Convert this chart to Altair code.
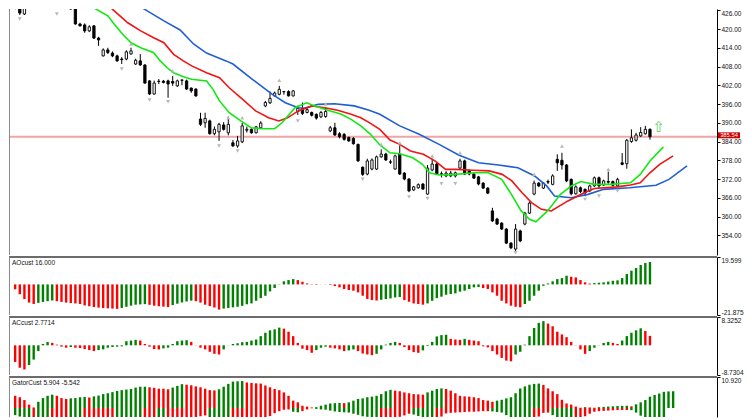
import altair as alt
import pandas as pd

# ---------------- candles (bar index 0..137) ----------------
opens = [428.0, 426.7, 424.8, 426.7, 428.2, 429.3, 429.5, 431.0, 428.9, 429.0,
         427.1, 428.0, 428.3, 426.4, 421.6, 421.3, 419.4, 421.0, 417.1, 411.4,
         413.3, 412.3, 411.4, 410.4, 410.4, 412.0, 408.8, 409.8, 408.5, 403.4,
         399.2, 403.3, 403.3, 403.4, 403.2, 401.8, 403.7, 403.4, 401.1, 400.8,
         391.2, 390.0, 390.6, 386.5, 387.1, 389.3, 386.8, 383.6, 382.6, 383.9,
         387.6, 387.9, 386.8, 388.4, 395.4, 396.4, 398.6, 399.1, 400.0, 400.0,
         398.6, 393.6, 394.6, 393.3, 393.3, 392.7, 391.9, 392.0, 387.4, 388.4,
         386.5, 386.3, 385.3, 385.0, 383.1, 375.8, 373.6, 375.2, 375.2, 379.1,
         380.0, 377.5, 375.2, 380.0, 373.9, 372.0, 368.5, 369.2, 370.4, 367.2,
         374.9, 376.8, 373.7, 373.0, 373.0, 373.0, 375.5, 377.8, 374.6, 373.6,
         372.7, 370.7, 369.1, 361.8, 359.2, 357.9, 356.0, 351.5, 349.6, 355.4,
         357.6, 361.1, 367.2, 370.7, 369.1, 371.2, 370.3, 378.3, 378.0, 376.5,
         371.9, 367.3, 369.2, 368.7, 368.2, 369.8, 372.4, 370.1, 371.2, 371.2,
         369.8, 377.2, 376.9, 384.0, 384.4, 385.8, 386.5, 387.9]
highs = [428.5, 427.0, 427.0, 428.7, 428.5, 429.8, 430.5, 432.0, 429.1, 429.5,
         428.5, 428.6, 429.0, 426.6, 422.0, 421.8, 421.2, 421.3, 417.5, 413.8,
         414.0, 412.8, 411.8, 411.0, 413.2, 414.0, 410.5, 412.0, 408.7, 403.6,
         403.5, 404.0, 403.7, 403.8, 405.0, 403.8, 403.8, 403.8, 401.3, 401.0,
         393.2, 393.2, 391.0, 388.8, 390.0, 390.2, 392.0, 384.5, 385.8, 390.0,
         388.8, 388.2, 389.0, 390.5, 397.0, 400.0, 400.0, 401.8, 400.2, 400.4,
         400.5, 395.5, 396.5, 395.0, 393.6, 393.0, 393.8, 395.0, 389.0, 390.0,
         387.0, 386.7, 385.6, 385.4, 383.3, 376.0, 378.5, 378.6, 379.5, 381.5,
         380.4, 378.2, 379.8, 382.8, 374.2, 372.3, 369.8, 370.6, 370.7, 376.5,
         378.5, 377.5, 374.4, 374.5, 374.6, 374.4, 378.5, 378.2, 375.0, 373.9,
         373.0, 371.0, 369.4, 362.8, 359.6, 358.2, 356.3, 351.8, 357.6, 355.8,
         361.5, 364.8, 371.5, 371.0, 371.0, 371.8, 373.5, 379.9, 380.4, 376.8,
         372.2, 370.0, 369.6, 369.0, 370.2, 372.8, 372.8, 371.8, 374.4, 371.5,
         372.4, 380.3, 384.8, 387.9, 386.8, 388.6, 389.0, 388.2]
lows = [426.3, 424.5, 424.5, 426.5, 427.5, 428.6, 428.8, 430.0, 427.4, 426.4,
        426.8, 427.4, 426.2, 421.4, 420.8, 418.8, 419.0, 416.8, 414.6, 411.2,
        412.0, 411.0, 409.5, 408.8, 410.0, 411.8, 408.5, 408.2, 402.5, 398.9,
        399.0, 402.4, 402.6, 398.0, 401.8, 401.5, 402.0, 400.5, 399.6, 398.3,
        389.0, 388.4, 386.2, 386.0, 384.2, 387.5, 386.0, 382.3, 382.0, 383.5,
        386.9, 386.5, 386.6, 388.0, 395.0, 396.0, 398.4, 398.8, 399.0, 398.4,
        398.4, 392.5, 392.5, 393.0, 392.0, 391.0, 391.5, 391.6, 387.0, 385.8,
        385.0, 384.3, 383.9, 383.0, 377.5, 373.0, 373.2, 374.8, 374.9, 378.8,
        377.8, 376.8, 375.0, 373.3, 371.6, 367.8, 368.2, 368.9, 368.5, 367.0,
        374.5, 373.3, 372.5, 372.6, 372.6, 372.5, 375.2, 373.3, 373.2, 372.0,
        370.0, 368.8, 367.2, 358.3, 357.3, 355.7, 351.2, 349.6, 349.0, 351.8,
        357.2, 360.8, 366.8, 369.4, 368.8, 370.4, 370.0, 374.6, 375.0, 371.0,
        366.8, 367.0, 367.5, 366.5, 367.8, 369.5, 369.0, 369.8, 370.5, 369.7,
        369.5, 376.4, 375.3, 383.6, 384.0, 385.5, 386.2, 384.6]
closes = [426.7, 425.1, 426.7, 428.3, 427.8, 429.0, 429.8, 430.5, 428.8, 426.7,
          428.0, 427.9, 426.4, 421.6, 421.0, 419.4, 420.7, 417.1, 416.5, 413.3,
          412.5, 411.4, 409.8, 410.2, 412.7, 413.0, 410.0, 408.5, 402.7, 399.2,
          402.7, 403.2, 402.9, 402.4, 402.7, 403.4, 403.6, 400.8, 400.2, 398.6,
          389.5, 391.4, 386.5, 387.9, 389.5, 387.9, 389.5, 382.6, 384.2, 389.0,
          387.9, 386.8, 388.7, 389.9, 396.5, 397.8, 399.5, 400.7, 399.9, 398.6,
          400.2, 394.6, 393.0, 394.2, 392.4, 391.5, 393.3, 393.6, 388.4, 386.1,
          385.5, 384.7, 384.2, 383.3, 377.8, 373.5, 377.8, 378.1, 379.1, 380.0,
          378.1, 377.4, 379.4, 373.6, 372.0, 368.2, 369.5, 370.2, 368.8, 375.5,
          376.8, 373.6, 373.5, 373.9, 373.9, 374.0, 377.8, 373.6, 373.6, 372.3,
          370.4, 369.1, 367.5, 358.6, 357.6, 356.0, 351.5, 350.0, 356.0, 352.2,
          361.1, 364.3, 370.7, 369.8, 370.7, 371.0, 373.0, 377.2, 376.5, 371.4,
          367.3, 369.5, 368.0, 367.6, 369.8, 372.4, 369.8, 371.4, 371.0, 370.0,
          371.9, 376.7, 384.4, 385.2, 386.1, 386.9, 387.9, 385.54]

# ---------------- alligator lines (bar index, price) ----------------
jaw_x = [25.0, 28.5, 32.1, 35.6, 38.5, 41.3, 45.5, 47.0, 51.2, 55.5, 58.3, 61.1, 62.6, 65.4, 68.9,
         73.2, 76.4, 78.7, 83.0, 87.2, 91.5, 95.7, 100.0, 104.3, 108.5, 112.1, 114.7, 116.4, 120.0,
         123.6, 127.0, 132.6, 138.3, 141.1, 145.0]
jaw_y = [429.0, 425.8, 422.6, 419.7, 415.2, 412.3, 409.8, 408.8, 403.9, 399.1, 396.4, 394.8, 394.7, 395.9,
         396.1, 395.4, 394.0, 392.7, 389.0, 386.3, 383.1, 379.7, 377.2, 376.5, 375.6, 373.0, 369.8, 366.6,
         366.0, 367.1, 368.7, 369.2, 370.0, 371.9, 376.2]
teeth_x = [18.9, 21.4, 24.3, 27.1, 29.9, 32.1, 34.2, 36.3, 38.1, 41.3, 44.1, 46.2, 49.1, 51.9, 54.7,
           56.9, 58.7, 61.1, 64.0, 66.8, 69.6, 72.5, 74.6, 76.6, 78.7, 80.9, 83.0, 85.3, 88.1, 90.6,
           92.9, 95.2, 98.7, 102.3, 105.1, 107.2, 109.4, 111.5, 113.6, 115.7, 119.3, 122.8, 125.0,
           129.9, 132.8, 134.9, 137.0, 139.1, 142.0]
teeth_y = [429.0, 425.8, 422.0, 419.4, 417.2, 415.6, 411.9, 409.8, 408.2, 406.0, 404.4, 401.2, 397.5,
           393.8, 391.6, 390.6, 391.5, 393.8, 395.4, 394.8, 394.0, 392.7, 391.6, 389.9, 387.9, 384.5,
           383.1, 381.0, 379.9, 377.8, 375.1, 375.1, 374.8, 374.6, 373.5, 371.4, 367.6, 364.4, 362.3,
           361.8, 365.0, 367.6, 369.0, 369.5, 370.1, 370.8, 374.0, 376.7, 379.4]
lips_x = [14.7, 17.5, 20.0, 21.4, 23.2, 25.0, 27.1, 29.9, 31.3, 32.8, 34.2, 36.3, 38.1, 41.3, 42.7,
          44.1, 46.2, 48.7, 50.9, 53.3, 56.0, 57.6, 60.4, 62.9, 64.7, 66.8, 70.4, 72.5, 74.6, 76.7,
          78.7, 80.9, 83.0, 85.8, 87.9, 89.4, 91.5, 95.0, 99.3, 102.1, 105.0, 107.1, 109.2, 111.0,
          112.4, 114.9, 117.7, 120.0, 122.1, 125.0, 128.4, 132.8, 134.9, 137.0, 139.9]
lips_y = [429.0, 426.3, 424.2, 421.5, 418.3, 415.6, 414.0, 412.4, 409.8, 407.6, 406.0, 404.7, 403.9,
          403.4, 400.7, 397.0, 393.2, 390.6, 388.4, 388.1, 388.1, 390.0, 394.8, 396.4, 395.4, 394.3,
          392.7, 391.1, 389.0, 386.3, 382.9, 380.4, 380.1, 378.8, 376.7, 374.0, 373.3, 373.5, 374.0,
          374.0, 371.9, 367.1, 361.8, 359.1, 358.3, 361.8, 367.1, 369.8, 371.2, 370.3, 370.3, 370.8,
          373.5, 377.8, 382.3]

# ---------------- fractal markers ----------------
frac_up_i = [25, 34, 46, 49, 57, 67, 79, 83, 90, 96, 112, 118, 128]
frac_up_p = [415.2, 406.6, 391.6, 391.6, 403.6, 396.0, 383.1, 383.6, 379.4, 380.4, 373.5, 382.6, 375.1]
frac_dn_i = [1, 9, 23, 29, 33, 44, 48, 61, 75, 85, 89, 92, 95, 108, 123, 126, 130]
frac_dn_p = [423.2, 424.8, 407.2, 397.3, 396.7, 382.6, 381.0, 390.6, 371.9, 366.3, 365.8, 370.5,
             370.5, 348.4, 365.5, 366.6, 368.2]

# ---------------- oscillators ----------------
ao_vals = [-3.5, -7.0, -10.5, -13.0, -14.0, -13.2, -12.5, -12.0, -11.5, -12.0,
           -12.5, -13.0, -13.3, -13.6, -14.0, -15.0, -15.6, -16.2, -16.6, -16.9,
           -17.1, -17.3, -17.5, -16.8, -16.0, -15.2, -14.5, -14.3, -14.1, -14.6,
           -15.2, -15.6, -15.9, -16.2, -14.8, -13.8, -12.9, -12.2, -11.6, -12.0,
           -13.0, -14.5, -15.5, -16.5, -18.0, -17.3, -16.9, -16.4, -16.0, -15.3,
           -14.2, -13.6, -11.7, -9.8, -8.1, -5.0, -2.6, -0.2, 2.2, 3.1,
           3.8, 3.1, 1.9, 0.7, 0.2, -0.3, -0.1, 0.1, -0.4, -1.2,
           -2.1, -3.3, -4.0, -4.5, -5.7, -8.1, -10.4, -11.2, -11.5, -11.0,
           -10.5, -10.0, -9.3, -9.0, -11.2, -12.4, -13.6, -14.0, -14.5, -13.6,
           -11.7, -9.8, -8.8, -7.4, -6.9, -6.4, -5.2, -4.5, -3.3, -2.1,
           -1.9, -2.6, -3.3, -5.7, -8.1, -11.7, -13.6, -15.2, -16.0, -16.4,
           -14.0, -11.7, -8.1, -4.5, -1.0, 0.7, 2.2, 3.8, 4.5, 6.2,
           5.5, 5.0, 3.1, 1.5, 0.6, 0.9, 1.2, 1.5, 2.0, 2.6,
           2.9, 4.5, 7.4, 9.8, 11.7, 13.9, 15.3, 16.0]
ac_vals = [-4.9, -6.6, -7.1, -5.8, -4.2, -1.7, 0.4, 1.0, 0.7, 0.2,
           -0.4, -0.7, -0.5, -0.7, -0.8, -1.1, -1.4, -1.7, -1.4, -1.2,
           -0.7, -0.5, -0.4, -0.3, 1.2, 1.4, 1.6, 1.4, 0.4, -0.4,
           -1.1, -1.2, -0.9, -0.7, 0.4, 1.2, 1.4, 1.5, 1.0, 0.04,
           -0.7, -1.2, -1.9, -2.5, -2.7, -1.2, 0.05, 0.4, 0.6, 0.9,
           1.0, 1.4, 1.7, 2.7, 3.7, 4.4, 4.7, 5.2, 4.9, 4.0,
           2.7, 0.7, -1.0, -1.4, -2.2, -1.4, -0.7, -0.4, -0.7, -0.9,
           -1.2, -1.7, -1.5, -1.2, -1.7, -2.4, -2.7, -2.9, -2.5, -1.2,
           0.2, 0.7, 1.0, 0.7, -0.5, -1.4, -2.0, -2.2, -1.5, -0.2,
           1.0, 2.6, 3.0, 3.1, 1.9, 1.7, 1.6, 1.9, 1.6, 1.4,
           1.2, -0.3, -0.6, -1.7, -2.7, -3.7, -4.5, -4.7, -2.7, -1.9,
           0.2, 2.7, 5.1, 6.6, 7.1, 6.4, 5.6, 4.0, 3.2, 2.4,
           1.0, 0.05, -1.2, -2.5, -1.7, -0.7, 0.05, 0.7, 1.0, 0.7,
           0.4, 1.4, 2.7, 3.7, 4.4, 5.0, 4.2, 2.7714]
gator_up = [4.3, 3.8, 2.8, 1.2, 0.2, 2.2, 3.5, 4.3, 4.7, 4.3,
            3.5, 3.2, 3.4, 3.5, 3.8, 3.9, 3.7, 4.1, 4.4, 4.9,
            5.2, 5.6, 6.0, 6.3, 6.5, 6.7, 7.2, 7.5, 7.5, 7.3,
            7.1, 6.8, 6.8, 6.6, 7.2, 7.8, 8.4, 8.2, 8.0, 7.6,
            7.3, 6.8, 6.3, 6.2, 6.6, 7.5, 8.5, 9.3, 9.4, 9.5,
            9.0, 8.8, 8.7, 8.6, 7.9, 7.3, 6.7, 6.3, 5.5, 4.3,
            2.6, 2.0, 0.8, 0.5, 0.2, 0.3, 0.8, 1.2, 1.6, 1.7,
            1.8, 1.7, 2.0, 2.6, 3.2, 3.4, 3.8, 4.0, 4.3, 4.9,
            5.9, 6.4, 6.1, 5.9, 5.5, 5.2, 4.9, 4.8, 4.7, 5.5,
            6.1, 6.7, 6.9, 6.7, 6.1, 5.2, 4.3, 4.1, 4.0, 3.8,
            3.5, 2.8, 2.6, 2.2, 2.6, 2.9, 3.4, 3.8, 5.2, 6.9,
            7.6, 8.2, 8.5, 8.6, 8.1, 6.9, 5.9, 4.9, 2.9, 1.6,
            1.2, 0.5, 0.1, 0.3, 0.2, 0.1, 0.3, 0.4, 0.5, 0.6,
            0.7, 0.75, 0.8, 0.6, 1.3, 2.0, 2.8, 4.0, 4.6, 5.1,
            5.7, 5.85, 5.904]
gator_dn = [-2.5, -3.0, -3.6, -4.2, -3.9, -4.4, -4.8, -5.2, -5.0, -4.8,
            -4.6, -4.5, -4.7, -5.0, -5.3, -5.2, -4.9, -4.6, -4.4, -4.3,
            -4.3, -4.3, -4.6, -5.0, -5.3, -5.4, -5.4, -5.4, -5.2, -4.9,
            -4.8, -5.8, -7.0, -6.5, -6.0, -5.6, -5.3, -4.8, -4.3, -3.6,
            -2.9, -2.6, -3.8, -5.5, -7.4, -7.8, -8.0, -7.7, -7.3, -7.0,
            -6.4, -5.8, -5.4, -4.6, -3.7, -2.8, -1.8, -1.1, -0.6, -0.5,
            -1.3, -1.5, -1.1, -0.5, -0.1, -0.3, -0.5, -0.6, -0.9, -1.2,
            -1.4, -1.5, -1.6, -2.0, -2.4, -2.9, -3.1, -4.5, -6.6, -5.5,
            -4.2, -3.5, -3.3, -3.1, -2.6, -2.0, -2.3, -2.8, -3.2, -3.9,
            -4.5, -4.1, -3.0, -1.9, -1.7, -1.6, -1.5, -1.4, -1.3, -1.3,
            -1.2, -1.1, -1.1, -1.2, -1.4, -1.6, -2.5, -3.8, -4.2, -4.8,
            -5.3, -5.8, -4.5, -3.0, -1.7, -1.6, -2.5, -3.4, -4.0, -4.4,
            -4.5, -4.2, -3.8, -2.9, -2.0, -1.3, -1.1, -1.0, -0.9, -0.8,
            -0.7, -0.7, -0.7, -0.75, -1.6, -2.7, -3.3, -3.8, -4.4, -4.9,
            -5.542]

price_ticks = [354, 360, 366, 372, 378, 384, 390, 396, 402, 408, 414, 420, 426]
last_price = 385.54
arrow_i, arrow_p = [138.9], [388.8]
ao_label = "AOcust 16.000"
ac_label = "ACcust 2.7714"
gator_label = "GatorCust 5.904 -5.542"
ao_range = [-21.875, 19.599]
ac_range = [-8.7304, 8.3252]
gator_top = 10.920

# ---------------- layout ----------------
W = 708
H_MAIN, H_AO, H_AC, H_GT = 246, 58, 58, 40
X_DOM = [-0.25, -0.25 + W / 4.7]
GREEN, RED = "#008000", "#ff0000"
FONT = "Liberation Sans"
SEP = "#6c6c6c"


def hist_colors(vals, use_abs=False):
    v = [abs(x) for x in vals] if use_abs else list(vals)
    out = [RED if not use_abs else GREEN]
    for k in range(1, len(v)):
        if v[k] > v[k - 1]:
            out.append(GREEN)
        elif v[k] < v[k - 1]:
            out.append(RED)
        else:
            out.append(out[-1])
    return out


def xq(field="i"):
    return alt.X(f"{field}:Q", scale=alt.Scale(domain=X_DOM, nice=False, zero=False), axis=None)


one = pd.DataFrame({"d": [0]})


def side_axis(values, fmt, flush, top_value=None):
    extra = {}
    if top_value is not None:
        extra["labelBaseline"] = {"condition": {"test": f"datum.value >= {top_value}", "value": "top"},
                                  "value": "middle"}
    return alt.Axis(orient="right", values=values, title=None, grid=False,
                    labelExpr=f"replace(format(datum.value, '{fmt}'), '\u2212', '-')",
                    labelFont=FONT, labelFontSize=6.5, labelColor="#111",
                    tickSize=3, tickColor="#000", domainColor="#000", domainWidth=1,
                    labelPadding=1, labelFlush=flush, labelOverlap=False, **extra)


def left_border(h):
    return alt.Chart(one).mark_rule(color="#8a8a8a", strokeWidth=1).encode(
        x=alt.value(0.5), y=alt.value(0), y2=alt.value(h))


def top_sep():
    return alt.Chart(one).mark_rule(color=SEP, strokeWidth=2).encode(
        y=alt.value(0), x=alt.value(0), x2=alt.value(W))


def panel_label(text):
    return alt.Chart(pd.DataFrame({"t": [text]})).mark_text(
        align="left", baseline="middle", font=FONT, fontSize=6.5, color="#111"
    ).encode(x=alt.value(3), y=alt.value(6), text="t:N")


# ---------------- main price panel ----------------
ys = alt.Scale(domain=[347.7, 426.4], nice=False, zero=False)
main_axis = side_axis(price_ticks, ".2f", False, top_value=price_ticks[-1])


def py(field):
    return alt.Y(f"{field}:Q", scale=ys, axis=main_axis)


cdf = pd.DataFrame({"i": list(range(len(opens))), "o": opens, "h": highs, "l": lows, "c": closes})
cdf["fill"] = ["#ffffff" if c > o else "#000000" for o, c in zip(opens, closes)]

price_rule = alt.Chart(pd.DataFrame({"p": [last_price]})).mark_rule(
    color="#f2a4a4", strokeWidth=2).encode(y=py("p"))
wicks = alt.Chart(cdf).mark_rule(color="#000000", strokeWidth=1, clip=True).encode(
    x=xq(), y=py("l"), y2="h:Q")
bodies = alt.Chart(cdf).mark_bar(size=2.3, stroke="#000000", strokeWidth=0.9, clip=True).encode(
    x=xq(), y=py("o"), y2="c:Q", fill=alt.Fill("fill:N", scale=None))


def line_layer(xs, ps, color):
    df = pd.DataFrame({"x": xs, "p": ps})
    return alt.Chart(df).mark_line(color=color, strokeWidth=1.6, clip=True).encode(
        x=xq("x"), y=py("p"))


jaw = line_layer(jaw_x, jaw_y, "#1f5fd6")
teeth = line_layer(teeth_x, teeth_y, "#f01414")
lips = line_layer(lips_x, lips_y, "#12e812")

fr_up = alt.Chart(pd.DataFrame({"i": frac_up_i, "p": frac_up_p})).mark_point(
    shape="triangle-up", filled=True, size=16, color="#b9b9b9", opacity=1, clip=True).encode(
    x=xq(), y=py("p"))
fr_dn = alt.Chart(pd.DataFrame({"i": frac_dn_i, "p": frac_dn_p})).mark_point(
    shape="triangle-down", filled=True, size=16, color="#b9b9b9", opacity=1, clip=True).encode(
    x=xq(), y=py("p"))

arrow = alt.Chart(pd.DataFrame({"i": arrow_i, "p": arrow_p, "t": ["\u21e7"]})).mark_text(
    font="DejaVu Sans", fontSize=15, color="#5fd35f", baseline="middle", align="center").encode(
    x=xq(), y=py("p"), text="t:N")

box_mid = last_price + 0.45
box_df = pd.DataFrame({"p": [box_mid], "hi": [box_mid + 0.95], "lo": [box_mid - 0.95],
                       "t": [f"{last_price:.2f}"]})
pbox = alt.Chart(box_df).mark_rect(color="#cc0000").encode(
    x=alt.value(W + 1), x2=alt.value(W + 23), y=py("hi"), y2="lo:Q")
ptext = alt.Chart(box_df).mark_text(color="#ffffff", font=FONT, fontSize=5.8,
                                    align="center", baseline="middle").encode(
    x=alt.value(W + 12), y=py("p"), text="t:N")

main = alt.layer(price_rule, wicks, bodies, jaw, teeth, lips, fr_up, fr_dn, arrow,
                 pbox, ptext, left_border(H_MAIN)).properties(width=W, height=H_MAIN)


# ---------------- histogram panels ----------------
def hist_panel(vals, colors, dom, axis, h, label, extra=None):
    sc = alt.Scale(domain=dom, nice=False, zero=False)
    df = pd.DataFrame({"i": list(range(len(vals))), "v": vals, "col": colors})
    layers = [alt.Chart(df).mark_bar(size=2.4, clip=True).encode(
        x=xq(), y=alt.Y("v:Q", scale=sc, axis=axis),
        y2=alt.datum(0), color=alt.Color("col:N", scale=None))]
    if extra is not None:
        df2 = pd.DataFrame({"i": list(range(len(extra[0]))), "v": extra[0], "col": extra[1]})
        layers.append(alt.Chart(df2).mark_bar(size=2.4, clip=True).encode(
            x=xq(), y=alt.Y("v:Q", scale=sc, axis=axis),
            y2=alt.datum(0), color=alt.Color("col:N", scale=None)))
    layers += [top_sep(), left_border(h), panel_label(label)]
    return alt.layer(*layers).properties(width=W, height=h)


ao_panel = hist_panel(ao_vals, hist_colors(ao_vals), ao_range,
                      side_axis([ao_range[1], ao_range[0]], ".3f", True), H_AO, ao_label)
ac_panel = hist_panel(ac_vals, hist_colors(ac_vals), ac_range,
                      side_axis([ac_range[1], ac_range[0]], ".4f", True), H_AC, ac_label)
gt_dom = [gator_top - H_GT * 0.352, gator_top]
gt_panel = hist_panel(gator_up, hist_colors(gator_up), gt_dom,
                      side_axis([gator_top], ".3f", True), H_GT, gator_label,
                      extra=(gator_dn, hist_colors(gator_dn, use_abs=True)))

chart = alt.vconcat(main, ao_panel, ac_panel, gt_panel, spacing=0).properties(
    padding=0, background="#ffffff"
).configure_view(strokeWidth=0)

chart.save("out.html", embed_options={"renderer": "svg", "actions": False})
